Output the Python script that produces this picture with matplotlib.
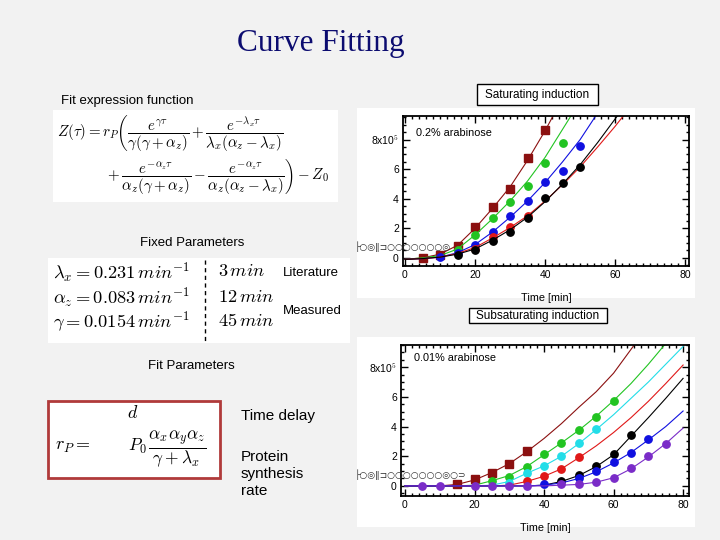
import numpy as np
import matplotlib
matplotlib.use("Agg")
import matplotlib.pyplot as plt
from matplotlib.patches import Rectangle
from matplotlib.lines import Line2D
from matplotlib.ticker import FixedLocator, FixedFormatter, MultipleLocator

plt.rcParams['mathtext.fontset'] = 'cm'
plt.rcParams['font.family'] = ['Liberation Sans', 'DejaVu Sans']

# ---- saturating induction (0.2% arabinose) ----
sat_colors = ['#8b1010', '#22c422', '#1010e0', '#e01818', '#000000']
sat_markers = ['s', 'o', 'o', 'o', 'o']
sat_pts_t = [
    [5, 10, 15, 20, 25, 30, 35, 40],
    [15, 20, 25, 30, 35, 40, 45],
    [10, 15, 20, 25, 30, 35, 40, 45, 50],
    [20, 25, 30, 35],
    [15, 20, 25, 30, 35, 40, 45, 50],
]
sat_pts_y = [
    [0.0, 0.2, 0.79, 2.07, 3.42, 4.66, 6.76, 8.67],
    [0.5, 1.58, 2.7, 3.8, 4.84, 6.42, 7.77],
    [0.05, 0.3, 0.86, 1.76, 2.86, 3.83, 5.16, 5.86, 7.59],
    [0.6, 1.4, 2.07, 2.84],
    [0.2, 0.5, 1.17, 1.78, 2.7, 4.03, 5.07, 6.13],
]
fit_t = [0, 5, 10, 15, 20, 25, 30, 35, 40, 45, 50, 55, 60, 65, 70, 75, 80]
sat_fit = [
    [-0.1, 0.0, 0.25, 0.85, 2.0, 3.35, 4.8, 6.6, 8.6, 10.8],
    [-0.1, 0.0, 0.15, 0.6, 1.55, 2.65, 3.85, 5.2, 6.8, 8.7, 10.6],
    [-0.1, -0.05, 0.05, 0.35, 0.9, 1.75, 2.75, 3.85, 5.1, 6.5, 8.0, 9.8],
    [-0.1, -0.05, 0.05, 0.3, 0.7, 1.35, 2.05, 2.85, 3.85, 4.95, 6.15, 7.5, 8.9, 10.4],
    [-0.1, -0.05, 0.05, 0.25, 0.6, 1.2, 1.9, 2.75, 3.8, 5.0, 6.3, 7.8, 9.4, 11.0],
]

# ---- subsaturating induction (0.01% arabinose) ----
sub_colors = ['#8b1010', '#22c422', '#22dde8', '#e01818', '#000000', '#1010e0', '#7a2cc8']
sub_markers = ['s', 'o', 'o', 'o', 'o', 'o', 'o']
sub_pts_t = [
    [15, 20, 25, 30, 35],
    [25, 30, 35, 40, 45, 50, 55, 60],
    [30, 35, 40, 45, 50, 55],
    [35, 40, 45, 50],
    [45, 50, 55, 60, 65],
    [40, 50, 55, 60, 65, 70],
    [5, 10, 20, 25, 30, 35, 45, 50, 55, 60, 65, 70, 75],
]
sub_pts_y = [
    [0.1, 0.45, 0.9, 1.5, 2.34],
    [0.34, 0.63, 1.28, 2.14, 2.86, 3.74, 4.66, 5.72],
    [0.2, 0.88, 1.33, 2.05, 2.9, 3.87],
    [0.34, 0.68, 1.13, 1.94],
    [0.36, 0.72, 1.31, 2.16, 3.42],
    [0.14, 0.54, 0.99, 1.62, 2.2, 3.15],
    [0.0, 0.0, 0.0, 0.0, 0.0, 0.0, 0.1, 0.1, 0.27, 0.5, 1.22, 2.03, 2.8],
]
sub_fit = [
    [0, 0, 0, 0.1, 0.4, 0.9, 1.5, 2.3, 3.2, 4.2, 5.3, 6.35, 7.6, 9.2, 10.8],
    [0, 0, 0, 0, 0.05, 0.35, 0.7, 1.3, 2.1, 2.9, 3.75, 4.7, 5.75, 6.9, 8.2, 9.6, 11.0],
    [0, 0, 0, 0, 0, 0.05, 0.3, 0.85, 1.35, 2.0, 2.85, 3.8, 4.8, 5.9, 7.0, 8.2, 9.4],
    [0, 0, 0, 0, 0, 0, 0.05, 0.3, 0.65, 1.15, 1.9, 2.7, 3.6, 4.6, 5.7, 6.9, 8.15],
    [0, 0, 0, 0, 0, 0, 0, 0, 0.05, 0.3, 0.7, 1.3, 2.1, 3.35, 4.6, 5.9, 7.25],
    [0, 0, 0, 0, 0, 0, 0, 0, 0.05, 0.2, 0.5, 0.95, 1.55, 2.25, 3.1, 4.0, 5.05],
    [0, 0, 0, 0, 0, 0, 0, 0, 0, 0.05, 0.1, 0.25, 0.55, 1.15, 1.95, 2.85, 3.9],
]

ytick_vals = [0, 2, 4, 6, 8]
ytick_labels = ['0', '2', '4', '6', '8x10$^5$']
xtick_vals = [0, 20, 40, 60, 80]

W, H = 720, 540
def fx(x):
    return x / W
def fy(y):
    return 1 - y / H

fig = plt.figure(figsize=(7.2, 5.4), dpi=100, facecolor='#f2f2f2')

def white_box(x0, y0, x1, y1, edge='none', lw=0, z=-5):
    fig.add_artist(Rectangle((fx(x0), fy(y1)), (x1 - x0) / W, (y1 - y0) / H,
                             transform=fig.transFigure, facecolor='white',
                             edgecolor=edge, linewidth=lw, zorder=z))

# title
fig.text(fx(321), fy(44), 'Curve Fitting', family='Liberation Serif', size=22.5,
         color='#0c0c70', ha='center', va='center')

# fit expression
fig.text(fx(61), fy(101), 'Fit expression function', size=9.5, va='center')
white_box(53, 110, 338, 202)
fig.text(fx(57), fy(133),
         r'$Z(\tau) = r_P\left(\dfrac{e^{\gamma\tau}}{\gamma(\gamma+\alpha_z)} + '
         r'\dfrac{e^{-\lambda_x\tau}}{\lambda_x(\alpha_z-\lambda_x)}\right.$',
         size=10.8, va='center')
fig.text(fx(105), fy(177),
         r'$\left.+\dfrac{e^{-\alpha_z\tau}}{\alpha_z(\gamma+\alpha_z)} - '
         r'\dfrac{e^{-\alpha_z\tau}}{\alpha_z(\alpha_z-\lambda_x)}\right) - Z_0$',
         size=10.8, va='center')

# fixed parameters
fig.text(fx(140), fy(243), 'Fixed Parameters', size=9.5, va='center')
white_box(48, 258, 350, 343)
rows_y = [272, 297, 322]
left_col = [r'$\lambda_x = 0.231\,min^{-1}$', r'$\alpha_z = 0.083\,min^{-1}$',
            r'$\gamma = 0.0154\,min^{-1}$']
right_col = [r'$3\,min$', r'$12\,min$', r'$45\,min$']
for yy, a, b in zip(rows_y, left_col, right_col):
    fig.text(fx(53), fy(yy), a, size=13.3, va='center')
    fig.text(fx(218), fy(yy), b, size=13.3, va='center')
fig.add_artist(Line2D([fx(205), fx(205)], [fy(260), fy(342)], transform=fig.transFigure,
                      color='black', linestyle=(0, (3, 2.5)), linewidth=1))
fig.text(fx(283), fy(273), 'Literature', size=9.5, va='center')
fig.text(fx(283), fy(311), 'Measured', size=9.5, va='center')

# fit parameters
fig.text(fx(148), fy(366), 'Fit Parameters', size=9.5, va='center')
white_box(48, 401, 220, 478, edge='#b03a3a', lw=2)
fig.text(fx(133), fy(413), r'$d$', size=13, va='center', ha='center')
fig.text(fx(55), fy(447), r'$r_P =$', size=13, va='center')
fig.text(fx(128), fy(449), r'$P_0\,\dfrac{\alpha_x\alpha_y\alpha_z}{\gamma+\lambda_x}$',
         size=12.5, va='center')
fig.text(fx(241), fy(416), 'Time delay', size=11, va='center')
fig.text(fx(241), fy(474), 'Protein\nsynthesis\nrate', size=11, va='center',
         linespacing=1.25)

# chart captions
white_box(477, 84, 598, 105, edge='black', lw=1, z=1)
fig.text(fx(537.5), fy(95), 'Saturating induction', size=8.5, ha='center', va='center')
white_box(469, 308, 607, 323, edge='black', lw=1, z=1)
fig.text(fx(538), fy(315.5), 'Subsaturating induction', size=8.5, ha='center', va='center')

# chart panels
white_box(357, 108, 695, 298)
white_box(357, 337, 695, 527)


def draw_chart(rect, xlim, ylim, colors, markers, pts_t, pts_y, fits, note, note_xy):
    ax = fig.add_axes(rect)
    ax.set_facecolor('white')
    for c, m, tt, yy, ff in zip(colors, markers, pts_t, pts_y, fits):
        ax.plot(fit_t[:len(ff)], ff, color=c, linewidth=0.8)
        ax.plot(tt, yy, linestyle='none', marker=m, color=c, markersize=5.3)
    ax.set_xlim(*xlim)
    ax.set_ylim(*ylim)
    ax.xaxis.set_major_locator(FixedLocator(xtick_vals))
    ax.xaxis.set_minor_locator(MultipleLocator(2))
    ax.yaxis.set_major_locator(FixedLocator(ytick_vals))
    ax.yaxis.set_major_formatter(FixedFormatter(ytick_labels))
    ax.yaxis.set_minor_locator(MultipleLocator(0.5))
    ax.tick_params(which='both', direction='in', top=True, right=True,
                   labelsize=7.5, width=1, pad=3)
    ax.tick_params(which='major', length=5)
    ax.tick_params(which='minor', length=2.5)
    for s in ax.spines.values():
        s.set_linewidth(1.3)
    ax.text(note_xy[0], note_xy[1], note, fontsize=7.8, va='center')
    ax.set_xlabel('Time [min]', fontsize=7.8)
    ax.xaxis.set_label_coords(0.5, -0.18)
    return ax


draw_chart([fx(403), fy(266), 286 / W, 150 / H], (-0.57, 81.1), (-0.55, 9.6),
           sat_colors, sat_markers, sat_pts_t, sat_pts_y, sat_fit,
           '0.2% arabinose', (3.1, 8.45))
draw_chart([fx(401), fy(496), 288 / W, 151 / H], (-1.15, 81.7), (-0.68, 9.5),
           sub_colors, sub_markers, sub_pts_t, sub_pts_y, sub_fit,
           '0.01% arabinose', (2.6, 8.6))

# squashed legend remnants left of the axes
fig.text(fx(355), fy(247), '\u251c\u25cb\u25ce\u2016\u2290\u25cb\u25cb\u25cb\u25cb\u25cb\u25cb\u25cb\u25ce',
         size=6.5, va='center', color='#333333', family='DejaVu Sans', zorder=4)
fig.text(fx(355), fy(475), '\u251c\u25cb\u25ce\u2016\u2290\u25cb\u25cb\u25cb\u25cb\u25cb\u25cb\u25cb\u25ce\u25cb\u2283',
         size=6.5, va='center', color='#333333', family='DejaVu Sans', zorder=4)

fig.savefig('out.png', dpi=100, facecolor=fig.get_facecolor())
